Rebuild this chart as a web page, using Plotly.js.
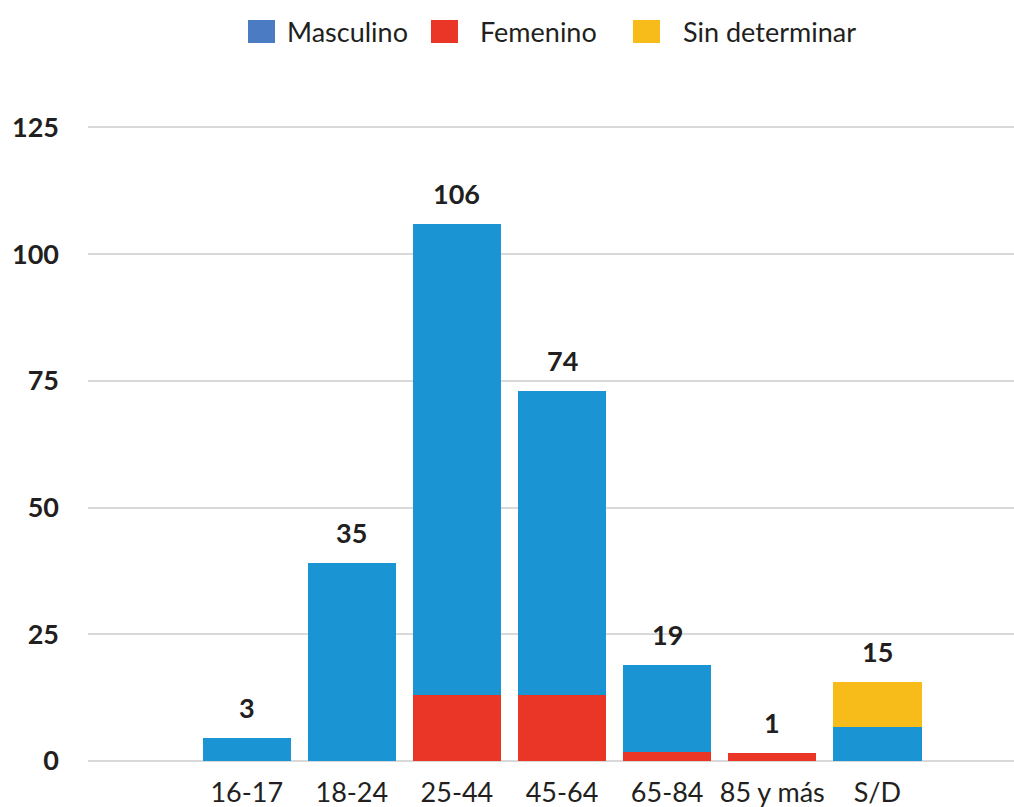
<!DOCTYPE html>
<html>
<head>
<meta charset="utf-8">
<script src="https://cdn.plot.ly/plotly-3.0.1.min.js"></script>
<style>html,body{margin:0;padding:0;background:#fff;}#chart{width:1014px;height:807px;}</style>
</head>
<body>
<div id="chart"></div>
<script>
// ---- data ----
const categories = ['16-17', '18-24', '25-44', '45-64', '65-84', '85 y más', 'S/D'];
const femenino = [null, null, 13, 13, 1.7, 1.5, null];
const masculino = [4.5, 39, 93, 60, 17.3, null, 6.8];
const sinDeterminar = [null, null, null, null, null, null, 8.7];
const totalLabels = ['3', '35', '106', '74', '19', '1', '15'];
const seriesNames = ['Masculino', 'Femenino', 'Sin determinar'];
const yTicks = [0, 25, 50, 75, 100, 125];

// ---- styles ----
const FONT = 'Lato, "Open Sans", sans-serif';
const TXT = '#231f20';
const C_BLUE = '#1a94d2';
const C_RED = '#e93627';
const C_YEL = '#f7bb1a';
const C_LEG_BLUE = '#4a7bc3';

const W = 1014, H = 807;
const M = {l: 88, r: 0, t: 100, b: 46};
const px2x = px => (px - M.l) / (W - M.l - M.r);
const px2y = py => (H - M.b - py) / (H - M.t - M.b);

const traces = [
  {type: 'bar', name: seriesNames[1], x: categories, y: femenino, marker: {color: C_RED}, showlegend: false},
  {type: 'bar', name: seriesNames[0], x: categories, y: masculino, marker: {color: C_BLUE}, showlegend: false},
  {type: 'bar', name: seriesNames[2], x: categories, y: sinDeterminar, marker: {color: C_YEL}, showlegend: false}
];

const totals = categories.map((c, i) => (femenino[i] || 0) + (masculino[i] || 0) + (sinDeterminar[i] || 0));

const annotations = categories.map((c, i) => ({
  x: c, y: totals[i], xref: 'x', yref: 'y',
  text: totalLabels[i], showarrow: false,
  yanchor: 'bottom', yshift: 12,
  font: {family: FONT, size: 27, color: TXT, weight: 'bold'}
}));

// manual legend (swatch + label)
const legColors = [C_LEG_BLUE, C_RED, C_YEL];
const legSwatchX = [248, 431, 633];
const legTextX = [285, 478, 681];
const shapes = [];
seriesNames.forEach((n, i) => {
  shapes.push({type: 'rect', xref: 'paper', yref: 'paper',
    x0: px2x(legSwatchX[i]), x1: px2x(legSwatchX[i] + 27),
    y0: px2y(43), y1: px2y(20),
    fillcolor: legColors[i], line: {width: 0}});
  annotations.push({xref: 'paper', yref: 'paper', x: px2x(legTextX[i]), y: px2y(31),
    xanchor: 'left', yanchor: 'middle', showarrow: false, text: n,
    font: {family: FONT, size: 27, color: TXT}});
});

const layout = {
  width: W, height: H,
  margin: M,
  paper_bgcolor: '#fff', plot_bgcolor: '#fff',
  barmode: 'stack', bargap: 0.16,
  showlegend: false,
  font: {family: FONT, color: TXT},
  xaxis: {
    type: 'category', range: [-1.51, 7.3],
    showgrid: false, zeroline: false, showline: false, ticks: '',
    tickfont: {family: FONT, size: 27, color: TXT},
    ticklabelstandoff: 13, fixedrange: true
  },
  yaxis: {
    range: [0, 130.4], tickvals: yTicks, ticktext: yTicks.map(String),
    showgrid: true, gridcolor: '#d9d9d9', gridwidth: 2,
    zeroline: true, zerolinecolor: '#d9d9d9', zerolinewidth: 2,
    showline: false, ticks: '',
    tickfont: {family: FONT, size: 27, color: TXT, weight: 'bold'},
    ticklabelstandoff: 28, fixedrange: true
  },
  annotations: annotations,
  shapes: shapes
};

Plotly.newPlot('chart', traces, layout, {displayModeBar: false, staticPlot: true});
</script>
</body>
</html>
